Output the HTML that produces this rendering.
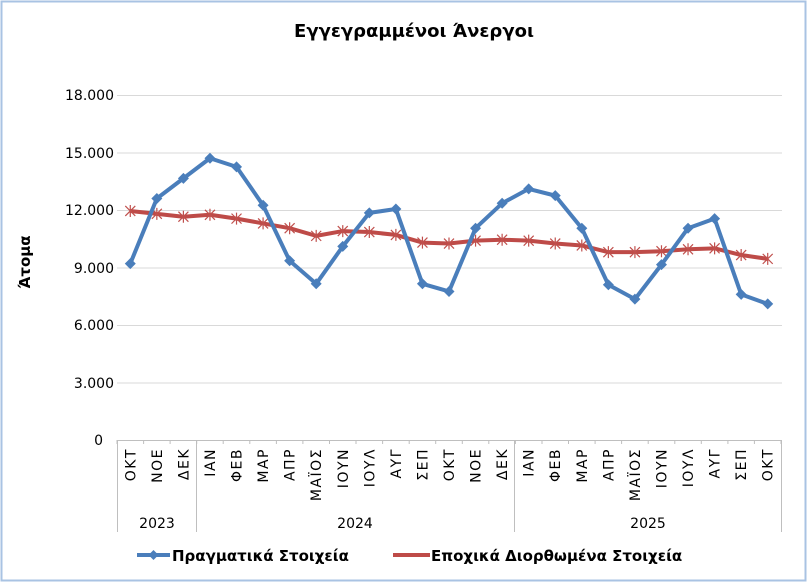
<!DOCTYPE html>
<html><head><meta charset="utf-8"><style>
body{margin:0;background:#fff}
svg{display:block}
text{font-family:"DejaVu Sans","Liberation Sans",sans-serif;fill:#000}
</style></head><body>
<svg width="807" height="582" viewBox="0 0 807 582">
<rect x="1.5" y="1.5" width="804" height="579" fill="#fff" stroke="#a9c3e3" stroke-width="2"/>
<text x="414" y="37" text-anchor="middle" font-size="18" font-weight="bold">Εγγεγραμμένοι Άνεργοι</text>
<g stroke="#d9d9d9" stroke-width="1">
<line x1="117" x2="782" y1="95.5" y2="95.5"/>
<line x1="117" x2="782" y1="153" y2="153"/>
<line x1="117" x2="782" y1="210.5" y2="210.5"/>
<line x1="117" x2="782" y1="268" y2="268"/>
<line x1="117" x2="782" y1="325.5" y2="325.5"/>
<line x1="117" x2="782" y1="383" y2="383"/>
</g>
<g font-size="14" text-anchor="end">
<text x="114" y="100">18.000</text>
<text x="114" y="158">15.000</text>
<text x="114" y="215">12.000</text>
<text x="114" y="273">9.000</text>
<text x="114" y="330">6.000</text>
<text x="114" y="388">3.000</text>
<text x="103" y="445">0</text>
</g>
<text transform="translate(30,262) rotate(-90)" text-anchor="middle" font-size="15" font-weight="bold">Άτομα</text>
<g stroke="#bfbfbf" stroke-width="1">
<line x1="117" x2="782" y1="440.5" y2="440.5"/>
<line x1="117.5" x2="117.5" y1="440" y2="532"/>
<line x1="196.5" x2="196.5" y1="440" y2="532"/>
<line x1="514.5" x2="514.5" y1="440" y2="532"/>
<line x1="781.5" x2="781.5" y1="440" y2="532"/>
</g>
<g id="ticks" stroke="#bfbfbf"></g>
<g id="months" font-size="14" letter-spacing="1.5"></g>
<g font-size="14" text-anchor="middle">
<text x="157" y="528">2023</text>
<text x="355" y="528">2024</text>
<text x="648" y="528">2025</text>
</g>
<g id="series"></g>
<line x1="137" x2="170" y1="555" y2="555" stroke="#4a7ebb" stroke-width="4"/>
<path d="M153.5 550 L158.5 555 L153.5 560 L148.5 555Z" fill="#4a7ebb"/>
<text x="172" y="561" font-size="15" font-weight="bold">Πραγματικά Στοιχεία</text>
<line x1="393" x2="430" y1="555" y2="555" stroke="#be4b48" stroke-width="4"/>
<text x="431" y="561" font-size="15" font-weight="bold">Εποχικά Διορθωμένα Στοιχεία</text>
</svg>
<script>
const m=["ΟΚΤ","ΝΟΕ","ΔΕΚ","ΙΑΝ","ΦΕΒ","ΜΑΡ","ΑΠΡ","ΜΑΪΟΣ","ΙΟΥΝ","ΙΟΥΛ","ΑΥΓ","ΣΕΠ","ΟΚΤ","ΝΟΕ","ΔΕΚ","ΙΑΝ","ΦΕΒ","ΜΑΡ","ΑΠΡ","ΜΑΪΟΣ","ΙΟΥΝ","ΙΟΥΛ","ΑΥΓ","ΣΕΠ","ΟΚΤ"];
const b=[9200,12600,13650,14700,14250,12250,9350,8150,10100,11850,12050,8150,7750,11050,12350,13100,12750,11050,8100,7350,9150,11050,11550,7600,7100];
const r=[11950,11800,11650,11750,11550,11300,11050,10650,10900,10850,10700,10300,10250,10400,10450,10400,10250,10150,9800,9800,9850,9950,10000,9650,9450];
const W=(781-117)/25,X=i=>117+W*(i+0.5),Y=v=>440-v*345/18000;
const ns="http://www.w3.org/2000/svg";
const mk=(t,a,p)=>{const e=document.createElementNS(ns,t);for(const k in a)e.setAttribute(k,a[k]);p.appendChild(e);return e;};
const tk=document.getElementById("ticks"),mo=document.getElementById("months"),s=document.getElementById("series");
for(let i=0;i<=25;i++){const x=(117+W*i).toFixed(1);mk("line",{x1:x,x2:x,y1:440,y2:444},tk);}
m.forEach((t,i)=>{const e=mk("text",{transform:`translate(${X(i)+5},448) rotate(-90)`,"text-anchor":"end"},mo);e.textContent=t;});
mk("polyline",{points:r.map((v,i)=>X(i)+","+Y(v)).join(" "),fill:"none",stroke:"#be4b48","stroke-width":4,"stroke-linejoin":"round"},s);
r.forEach((v,i)=>{const x=X(i),y=Y(v),d=5;mk("path",{d:`M${x-d} ${y-d}L${x+d} ${y+d}M${x-d} ${y+d}L${x+d} ${y-d}M${x} ${y-d-1}L${x} ${y+d+1}`,stroke:"#c0504d","stroke-width":1.2},s);});
mk("polyline",{points:b.map((v,i)=>X(i)+","+Y(v)).join(" "),fill:"none",stroke:"#4a7ebb","stroke-width":4,"stroke-linejoin":"round"},s);
b.forEach((v,i)=>{const x=X(i),y=Y(v);mk("path",{d:`M${x} ${y-5.5}L${x+5.5} ${y}L${x} ${y+5.5}L${x-5.5} ${y}Z`,fill:"#4a7ebb"},s);});
</script>
</body></html>
